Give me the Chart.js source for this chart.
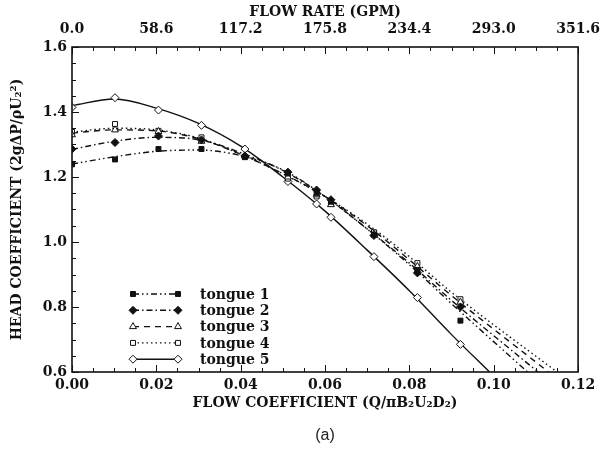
<!DOCTYPE html>
<html>
<head>
<meta charset="utf-8">
<script src="https://cdn.jsdelivr.net/npm/chart.js@4"></script>
<style>
  html, body { margin: 0; padding: 0; background: #fff; }
  #wrap { width: 609px; height: 450px; }
</style>
</head>
<body>
<div id="wrap"><canvas id="headChart" width="609" height="450"></canvas></div>
<script>
// measured flow coefficients (same for every tongue)
const flowCoef = [0, 0.0102, 0.0205, 0.0307, 0.041, 0.0512, 0.058, 0.0614, 0.0716, 0.0819, 0.0921];

// head coefficient markers
const tongue1 = [1.239, 1.254, 1.286, 1.286, 1.261, 1.211, 1.150, 1.124, 1.022, 0.914, 0.758];
const tongue2 = [1.286, 1.306, 1.326, 1.314, 1.265, 1.215, 1.160, 1.130, 1.020, 0.905, 0.800];
const tongue3 = [1.330, 1.345, 1.340, 1.310, 1.265, 1.200, 1.145, 1.115, 1.025, 0.925, 0.815];
const tongue4 = [1.339, 1.363, 1.342, 1.322, 1.262, 1.195, 1.140, 1.120, 1.030, 0.935, 0.824];
const tongue5 = [1.414, 1.444, 1.406, 1.359, 1.286, 1.186, 1.117, 1.076, 0.955, 0.829, 0.685];

// fitted curves
const curveX = [0, 0.01, 0.02, 0.03, 0.04, 0.05, 0.06, 0.07, 0.08, 0.09];
const fit1 = [1.240, 1.262, 1.279, 1.283, 1.266, 1.222, 1.140, 1.040, 0.930, 0.810];
const fit2 = [1.285, 1.310, 1.322, 1.315, 1.275, 1.220, 1.140, 1.040, 0.935, 0.820];
const fit3 = [1.335, 1.345, 1.342, 1.318, 1.270, 1.210, 1.140, 1.050, 0.945, 0.835];
const fit4 = [1.338, 1.350, 1.345, 1.320, 1.270, 1.210, 1.140, 1.055, 0.955, 0.845];
const fit5 = [1.420, 1.440, 1.412, 1.365, 1.295, 1.200, 1.095, 0.975, 0.850, 0.715];
// where each fit leaves the plot at head coefficient 0.6
const fitEndX = [0.108, 0.1105, 0.113, 0.115, 0.099];
const fitEndY = 0.6;

const names = ['tongue 1', 'tongue 2', 'tongue 3', 'tongue 4', 'tongue 5'];
const xTickLabels = ['0.00', '0.02', '0.04', '0.06', '0.08', '0.10', '0.12'];
const gpmTickLabels = ['0.0', '58.6', '117.2', '175.8', '234.4', '293.0', '351.6'];
const yTickLabels = ['0.6', '0.8', '1.0', '1.2', '1.4', '1.6'];

const markers = [tongue1, tongue2, tongue3, tongue4, tongue5];
const fits = [fit1, fit2, fit3, fit4, fit5];

const styles = [
    { dash: [6, 3, 1.5, 3, 1.5, 3], point: 'rect', fill: '#111', r: 3.5 },
    { dash: [6, 3, 1.5, 3], point: 'rectRot', fill: '#111', r: 4 },
    { dash: [6, 5], point: 'triangle', fill: '#fff', r: 4 },
    { dash: [1.5, 3], point: 'rect', fill: '#fff', r: 3.5 },
    { dash: [], point: 'rectRot', fill: '#fff', r: 4 }
];

const serif = "'DejaVu Serif', serif";
const ink = '#111';

const datasets = [];
fits.forEach(function (f, i) {
    const pts = curveX.map(function (x, j) { return { x: x, y: f[j] }; });
    pts.push({ x: fitEndX[i], y: fitEndY });
    datasets.push({
        label: names[i] + ' fit',
        data: pts,
        showLine: true,
        borderColor: ink,
        borderWidth: 1.4,
        borderDash: styles[i].dash,
        pointRadius: 0,
        cubicInterpolationMode: 'monotone',
        order: 2
    });
});
markers.forEach(function (m, i) {
    datasets.push({
        label: names[i],
        data: flowCoef.map(function (x, j) { return { x: x, y: m[j] }; }),
        showLine: false,
        pointStyle: styles[i].point,
        pointRadius: styles[i].r,
        pointBackgroundColor: styles[i].fill,
        pointBorderColor: ink,
        pointBorderWidth: 1,
        order: 1
    });
});

// frame, inward ticks, legend, caption
const decor = {
    id: 'decor',
    afterDatasetsDraw: function (chart) {
        const c = chart.ctx;
        const a = chart.chartArea;
        const xs = chart.scales.x, ys = chart.scales.y;
        c.save();
        c.strokeStyle = ink;
        c.lineWidth = 1.6;
        c.setLineDash([]);
        c.strokeRect(a.left, a.top, a.right - a.left, a.bottom - a.top);
        c.lineWidth = 1;
        for (let k = 0; k <= 24; k++) {
            const px = Math.round(xs.getPixelForValue(k * 0.005)) + 0.5;
            const len = k % 4 === 0 ? 7 : 4;
            c.beginPath();
            c.moveTo(px, a.bottom); c.lineTo(px, a.bottom - len);
            c.moveTo(px, a.top); c.lineTo(px, a.top + len);
            c.stroke();
        }
        for (let k = 0; k <= 20; k++) {
            const py = Math.round(ys.getPixelForValue(0.6 + k * 0.05)) + 0.5;
            const len = k % 4 === 0 ? 7 : 4;
            c.beginPath();
            c.moveTo(a.left, py); c.lineTo(a.left + len, py);
            c.stroke();
        }

        // legend
        const lx0 = 133, lx1 = 178, tx = 200;
        let ly = 294;
        styles.forEach(function (s, i) {
            c.strokeStyle = ink;
            c.lineWidth = 1.4;
            c.setLineDash(s.dash);
            c.beginPath(); c.moveTo(lx0, ly); c.lineTo(lx1, ly); c.stroke();
            c.setLineDash([]);
            c.lineWidth = 1;
            [lx0, lx1].forEach(function (px) {
                c.fillStyle = s.fill;
                c.strokeStyle = ink;
                Chart.helpers.drawPoint(c, {
                    pointStyle: s.point, radius: s.r, rotation: 0, borderWidth: 1
                }, px, ly);
            });
            c.fillStyle = ink;
            c.font = 'bold 14px ' + serif;
            c.textBaseline = 'middle';
            c.textAlign = 'left';
            c.fillText(names[i], tx, ly + 1);
            ly += 16.3;
        });

        c.fillStyle = '#222';
        c.font = '16px "Liberation Sans", Arial, sans-serif';
        c.textAlign = 'center';
        c.textBaseline = 'middle';
        c.fillText('(a)', (a.left + a.right) / 2, 436);
        c.restore();
    }
};

const tickFont = { family: serif, size: 14, weight: 'bold' };
const titleFont = { family: serif, size: 14, weight: 'bold' };

new Chart(document.getElementById('headChart').getContext('2d'), {
    type: 'scatter',
    data: { datasets: datasets },
    options: {
        responsive: false,
        animation: false,
        layout: { padding: { left: 0, right: 27, top: 0, bottom: 0 } },
        plugins: {
            legend: { display: false },
            tooltip: { enabled: false }
        },
        scales: {
            x: {
                type: 'linear',
                position: 'bottom',
                min: 0,
                max: 0.12,
                grid: { display: false, drawTicks: false },
                border: { display: false },
                ticks: {
                    stepSize: 0.02,
                    color: ink,
                    font: tickFont,
                    padding: 5,
                    maxRotation: 0,
                    callback: function (v, i) { return xTickLabels[i]; }
                },
                title: {
                    display: true,
                    text: 'FLOW COEFFICIENT (Q/\u03C0B\u2082U\u2082D\u2082)',
                    color: ink,
                    font: titleFont,
                    padding: { top: 0, bottom: 38 }
                },
                afterFit: function (scale) { scale.height = 78; }
            },
            x2: {
                type: 'linear',
                position: 'top',
                min: 0,
                max: 0.12,
                grid: { display: false, drawTicks: false },
                border: { display: false },
                ticks: {
                    stepSize: 0.02,
                    color: ink,
                    font: tickFont,
                    padding: 9,
                    maxRotation: 0,
                    callback: function (v, i) { return gpmTickLabels[i]; }
                },
                title: {
                    display: true,
                    text: 'FLOW RATE (GPM)',
                    color: ink,
                    font: titleFont,
                    padding: { top: 4, bottom: 0 }
                },
                afterFit: function (scale) { scale.height = 47; }
            },
            y: {
                min: 0.6,
                max: 1.6,
                grid: { display: false, drawTicks: false },
                border: { display: false },
                ticks: {
                    stepSize: 0.2,
                    color: ink,
                    font: tickFont,
                    padding: 5,
                    callback: function (v, i) { return yTickLabels[i]; }
                },
                title: {
                    display: true,
                    text: 'HEAD COEFFICIENT (2g\u0394P/\u03C1U\u2082\u00B2)',
                    color: ink,
                    font: titleFont,
                    padding: { top: 9, bottom: 0 }
                },
                afterFit: function (scale) { scale.width = 72; }
            }
        }
    },
    plugins: [decor]
});
</script>
</body>
</html>
